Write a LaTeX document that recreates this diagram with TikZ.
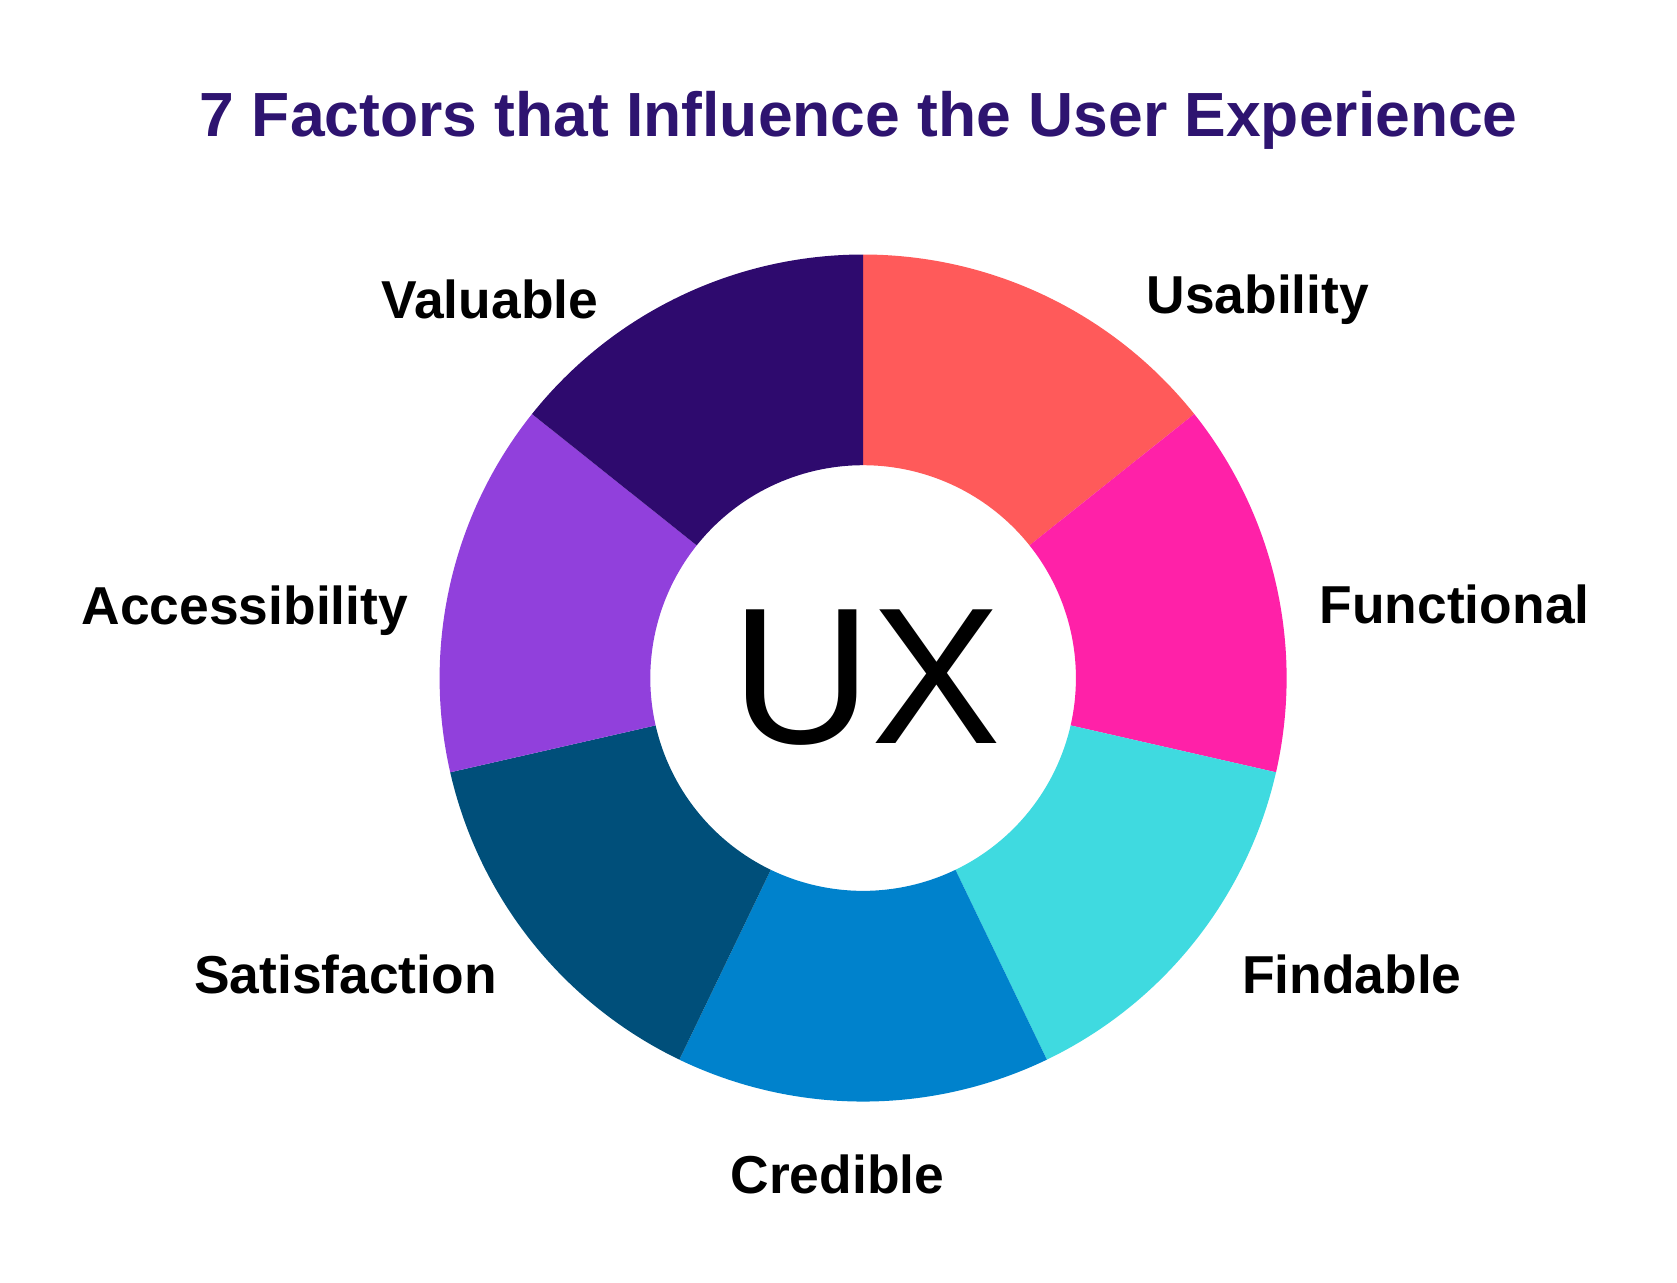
\documentclass[tikz,border=0pt]{standalone}
\usepackage{fontspec}
\setmainfont{Liberation Sans}
\usetikzlibrary{calc}
\definecolor{cU}{HTML}{FF5A5A}
\definecolor{cF}{HTML}{FF21A8}
\definecolor{cFi}{HTML}{3FDAE0}
\definecolor{cC}{HTML}{0082CC}
\definecolor{cS}{HTML}{004F7A}
\definecolor{cA}{HTML}{9140DC}
\definecolor{cV}{HTML}{2E0A6E}
\definecolor{ctitle}{HTML}{2E1470}
\begin{document}
\begin{tikzpicture}[lbl/.style={font=\fontsize{14.2}{17}\selectfont\bfseries, text=black}]
\useasboundingbox (0,0) rectangle (15.68,11.99);
\coordinate (O) at (8.07,5.65);
\def\Ro{3.96}\def\Ri{1.99}
\foreach \c [count=\i from 0] in {cU,cF,cFi,cC,cS,cA,cV}{
  \pgfmathsetmacro{\a}{90-\i*360/7}
  \pgfmathsetmacro{\b}{90-(\i+1)*360/7}
  \fill[\c] ($(O)+(\a:\Ro)$) arc[start angle=\a,end angle=\b,radius=\Ro] -- ($(O)+(\b:\Ri)$) arc[start angle=\b,end angle=\a,radius=\Ri] -- cycle;
}
\node[font=\fontsize{51.7}{60}\selectfont] (ux) at (8.1,5.65) {UX};
\node[font=\fontsize{16.6}{20}\selectfont\bfseries, text=ctitle] (title) at (8.03,10.86) {7 Factors that Influence the User Experience};
\node[lbl] (v) at (4.58,9.19) {Valuable};
\node[lbl] (u) at (11.76,9.19) {Usability};
\node[lbl] (f) at (13.60,6.34) {Functional};
\node[lbl] (a) at (2.29,6.28) {Accessibility};
\node[lbl] (s) at (3.23,2.88) {Satisfaction};
\node[lbl] (fi) at (12.64,2.88) {Findable};
\node[lbl] (c) at (7.83,1.01) {Credible};
\end{tikzpicture}
\end{document}
